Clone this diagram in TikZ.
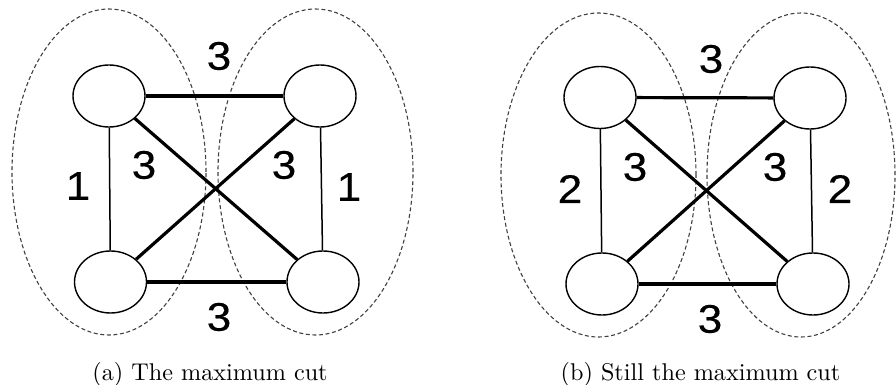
\documentclass[tikz,border=0pt]{standalone}
\usepackage{fontspec}
\newfontfamily\labelfont[FakeBold=0.25]{Liberation Sans}
\usetikzlibrary{shapes.geometric}
\newcommand{\capbox}[1]{\scalebox{2.42}{\fontsize{10}{12}\selectfont #1}}
\newcommand{\wgt}[1]{\scalebox{1.1}[1]{#1}}
\tikzset{
  vert/.style={draw=black, ellipse, line width=1.4pt, minimum width=72pt, minimum height=62pt, inner sep=0pt, fill=white},
  heavy/.style={line width=3.2pt},
  light/.style={line width=1.5pt},
  cutline/.style={draw=black!75, line width=1.1pt, dash pattern=on 4pt off 2.6pt},
  wlabel/.style={font=\labelfont\fontsize{40}{40}\selectfont, inner sep=0pt},
  caplabel/.style={anchor=base, inner sep=0pt}
}
\begin{document}
\begin{tikzpicture}[x=1pt,y=-1pt]
\useasboundingbox (0,0) rectangle (896,385);
% ---------- (a) ----------
\draw[cutline] (109,172) ellipse [x radius=97pt, y radius=163pt];
\draw[cutline] (315.5,172) ellipse [x radius=97.5pt, y radius=163pt];
\node[vert] (a1) at (109,96) {};
\node[vert] (a2) at (320,96) {};
\node[vert] (a3) at (110.5,282) {};
\node[vert] (a4) at (323,282) {};
\draw[heavy] (a1) -- (a2);
\draw[heavy] (a3) -- (a4);
\draw[heavy] (a1) -- (a4);
\draw[heavy] (a2) -- (a3);
\draw[light] (a1) -- (a3);
\draw[light] (a2) -- (a4);
\node[wlabel] (la1) at (219,56) {\wgt{3}};
\node[wlabel] (la2) at (219,317) {\wgt{3}};
\node[wlabel] (la3) at (144,165) {\wgt{3}};
\node[wlabel] (la4) at (284,165) {\wgt{3}};
\node[wlabel] (la5) at (78,186) {\wgt{1}};
\node[wlabel] (la6) at (349,187) {\wgt{1}};
\node[caplabel] (capa) at (210,380) {\capbox{(a) The maximum cut}};
% ---------- (b) ----------
\draw[cutline] (598.5,175) ellipse [x radius=97.5pt, y radius=162pt];
\draw[cutline] (801,175) ellipse [x radius=94pt, y radius=162pt];
\node[vert] (b1) at (600,97.5) {};
\node[vert] (b2) at (810,98) {};
\node[vert] (b3) at (602,284) {};
\node[vert] (b4) at (813,284) {};
\draw[heavy] (b1) -- (b2);
\draw[heavy] (b3) -- (b4);
\draw[heavy] (b1) -- (b4);
\draw[heavy] (b2) -- (b3);
\draw[light] (b1) -- (b3);
\draw[light] (b2) -- (b4);
\node[wlabel] (lb1) at (711,59) {\wgt{3}};
\node[wlabel] (lb2) at (710,319) {\wgt{3}};
\node[wlabel] (lb3) at (635,167) {\wgt{3}};
\node[wlabel] (lb4) at (775,167) {\wgt{3}};
\node[wlabel] (lb5) at (570,189) {\wgt{2}};
\node[wlabel] (lb6) at (840,189) {\wgt{2}};
\node[caplabel] (capb) at (700.5,380) {\capbox{(b) Still the maximum cut}};
\end{tikzpicture}
\end{document}
